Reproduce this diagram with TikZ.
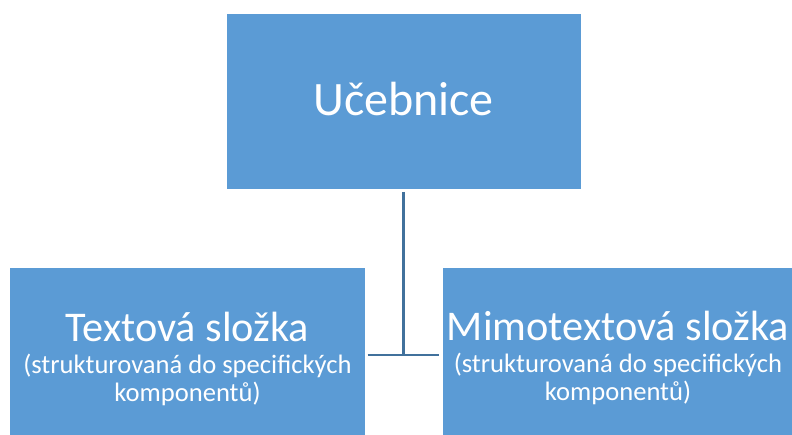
\documentclass[tikz,border=0pt]{standalone}
\usepackage{fontspec}
\setmainfont{Carlito}
\definecolor{boxblue}{HTML}{5B9BD5}
\definecolor{lineblue}{HTML}{41719C}
\begin{document}
\begin{tikzpicture}[x=1pt,y=-1pt,
	box/.style={rectangle,fill=boxblue,draw=white,line width=0.8pt,inner sep=0,outer sep=0},
	boxtext/.style={text=white,align=center,inner sep=0,font=\fontsize{26.6}{28}\selectfont},
	link/.style={lineblue,line width=2.2pt}]
	\useasboundingbox (0,0) rectangle (792,435);
	% Top box
	\node[box,minimum width=355pt,minimum height=176pt] (book) at (403.5,101) {};
	\node[boxtext] (booktext) at ([yshift=2pt]book.center)
		{\fontsize{48}{58}\selectfont Učebnice};
	% Bottom boxes
	\node[box,minimum width=356pt,minimum height=170pt] (textpart) at (187.5,352) {};
	\node[boxtext] (textparttext) at ([yshift=-7pt]textpart.center)
		{\fontsize{42.3}{50}\selectfont Textová složka\\[4pt]
		(strukturovaná do specifických\\ komponentů)};
	\node[box,minimum width=352pt,minimum height=170pt] (otherpart) at (618,352) {};
	\node[boxtext] (otherparttext) at ([yshift=-6pt]otherpart.center)
		{\fontsize{42.3}{50}\selectfont Mimotextová složka\\[4pt]
		(strukturovaná do specifických\\ komponentů)};
	% Connector
	\coordinate (joint) at (book.south |- 0,355);
	\draw[link] ([yshift=-3pt]book.south) -- (joint);
	\draw[link] ([xshift=2pt]textpart.east |- joint) -- ([xshift=-3pt]otherpart.west |- joint);
\end{tikzpicture}
\end{document}
